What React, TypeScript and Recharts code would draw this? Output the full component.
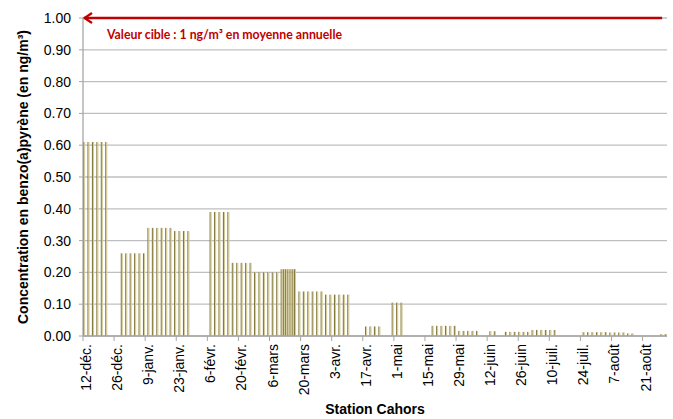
import React from 'react';
import { BarChart, Bar, XAxis, YAxis, CartesianGrid, ReferenceLine, Label } from 'recharts';

// sampling day = number of days after 12 December
const sampleDay = [
  0, 2, 4, 6, 8, 10,
  17, 19, 21, 23, 25, 27,
  29, 31, 33, 35, 37, 39,
  41, 43, 45, 47,
  57, 59, 61, 63, 65,
  67, 69, 71, 73, 75,
  77, 79, 81, 83, 85, 87,
  89, 90, 91, 92, 93, 94, 95,
  97, 99, 101, 103, 105, 107,
  109, 111, 113, 115, 117, 119,
  127, 129, 131, 133,
  139, 141, 143,
  157, 159, 161, 163, 165, 167,
  169, 171, 173, 175, 177,
  183, 185,
  190, 192, 194, 196, 198, 200,
  202, 204, 206, 208, 210, 212,
  225, 227, 229, 231, 233, 235, 237, 239, 241, 243, 245, 247,
  260, 262,
];

// benzo(a)pyrène, ng/m³
const bapValue = [
  0.61, 0.61, 0.61, 0.61, 0.61, 0.61,
  0.26, 0.26, 0.26, 0.26, 0.26, 0.26,
  0.34, 0.34, 0.34, 0.34, 0.34, 0.34,
  0.33, 0.33, 0.33, 0.33,
  0.39, 0.39, 0.39, 0.39, 0.39,
  0.23, 0.23, 0.23, 0.23, 0.23,
  0.2, 0.2, 0.2, 0.2, 0.2, 0.2,
  0.21, 0.21, 0.21, 0.21, 0.21, 0.21, 0.21,
  0.14, 0.14, 0.14, 0.14, 0.14, 0.14,
  0.13, 0.13, 0.13, 0.13, 0.13, 0.13,
  0.03, 0.03, 0.03, 0.03,
  0.105, 0.105, 0.105,
  0.032, 0.032, 0.032, 0.032, 0.032, 0.032,
  0.016, 0.016, 0.016, 0.016, 0.016,
  0.015, 0.015,
  0.013, 0.013, 0.013, 0.013, 0.013, 0.013,
  0.019, 0.019, 0.019, 0.019, 0.019, 0.019,
  0.012, 0.012, 0.012, 0.012, 0.012, 0.012, 0.011, 0.011, 0.011, 0.011, 0.008, 0.008,
  0.006, 0.006,
];

const tickDays = [0, 14, 28, 42, 56, 70, 84, 98, 112, 126, 140, 154, 168, 182, 196, 210, 224, 238, 252];
const tickLabels = [
  '12-déc.', '26-déc.', '9-janv.', '23-janv.', '6-févr.', '20-févr.', '6-mars', '20-mars', '3-avr.',
  '17-avr.', '1-mai', '15-mai', '29-mai', '12-juin', '26-juin', '10-juil.', '24-juil.', '7-août', '21-août',
];
const yTicks = [0, 0.1, 0.2, 0.3, 0.4, 0.5, 0.6, 0.7, 0.8, 0.9, 1];

const lastDay = 263;
const targetValue = 1;
const targetEndDay = 260.8;
const targetLabel = 'Valeur cible : 1 ng/m³ en moyenne annuelle';

const samples = sampleDay.map((day, i) => ({ day, value: bapValue[i] }));

const FONT = '"Liberation Sans", Arial, sans-serif';
const RED = '#C00000';
const GRID = '#BFBFBF';
const AXIS = '#A6A6A6';

const XTick = (props: any) => {
  const { x, y, payload } = props;
  const label = tickLabels[tickDays.indexOf(payload.value)];
  const tx = x + 8;
  const ty = y + 1;
  return (
    <text x={tx} y={ty} transform={`rotate(-90 ${tx} ${ty})`} textAnchor="end" fontFamily={FONT} fontSize={14} fill="#000">
      {label}
    </text>
  );
};

const BapBar = (props: any) => {
  const { x, y, height } = props;
  if (!height || height <= 0) return null;
  return (
    <g>
      <rect x={x} y={y} width={1.1} height={height} fill="#857A3B" />
      <rect x={x + 1.1} y={y} width={1} height={height} fill="#D3CA98" />
    </g>
  );
};

const TargetArrow = (props: any) => {
  const { x1, y1, x2 } = props;
  const left = Math.min(x1, x2);
  const right = Math.max(x1, x2);
  return (
    <g>
      <line x1={left + 1} y1={y1} x2={right} y2={y1} stroke={RED} strokeWidth={2.5} />
      <path
        d={`M${left + 9},${y1 - 5} L${left + 1.5},${y1} L${left + 9},${y1 + 5}`}
        fill="none"
        stroke={RED}
        strokeWidth={2.2}
      />
      <text x={left + 24} y={y1 + 20.5} fill={RED} fontFamily="Lato, sans-serif" fontWeight="bold" fontSize={12.3}>
        {targetLabel}
      </text>
    </g>
  );
};

const YTitle = (props: any) => {
  const { viewBox } = props;
  const cy = viewBox.y + viewBox.height / 2;
  const cx = viewBox.x + 28;
  return (
    <text x={cx} y={cy} transform={`rotate(-90 ${cx} ${cy})`} textAnchor="middle" fontFamily={FONT} fontWeight="bold" fontSize={14} fill="#000">
      Concentration en benzo(a)pyrène (en ng/m³)
    </text>
  );
};

export default function App() {
  return (
    <div style={{ width: 673, height: 419 }}>
      <style>{'body{margin:0}'}</style>
      <BarChart width={673} height={419} data={samples} margin={{ top: 18, right: 6, bottom: 0, left: 0 }}>
        <CartesianGrid vertical={false} stroke={GRID} strokeWidth={1.3} />
        <XAxis
          type="number"
          dataKey={(d: any) => d.day + 0.5}
          domain={[0, lastDay]}
          ticks={tickDays}
          interval={0}
          height={83}
          tick={<XTick />}
          tickSize={5}
          tickLine={{ stroke: AXIS }}
          axisLine={{ stroke: AXIS, strokeWidth: 1.3 }}
        >
          <Label
            value="Station Cahors"
            position="insideBottom"
            offset={5}
            style={{ fontFamily: FONT, fontWeight: 'bold', fontSize: 14, fill: '#000' }}
          />
        </XAxis>
        <YAxis
          type="number"
          domain={[0, 1]}
          ticks={yTicks}
          interval={0}
          width={83}
          tickFormatter={(v: number) => v.toFixed(2)}
          tick={{ fontFamily: FONT, fontSize: 14, fill: '#000' }}
          tickSize={4}
          tickMargin={8}
          tickLine={{ stroke: AXIS }}
          axisLine={{ stroke: AXIS, strokeWidth: 1.3 }}
        >
          <Label content={<YTitle />} />
        </YAxis>
        <Bar dataKey="value" barSize={2} shape={<BapBar />} isAnimationActive={false} />
        <ReferenceLine
          segment={[{ x: 0, y: targetValue }, { x: targetEndDay, y: targetValue }]}
          ifOverflow="visible"
          shape={<TargetArrow />}
        />
      </BarChart>
    </div>
  );
}
